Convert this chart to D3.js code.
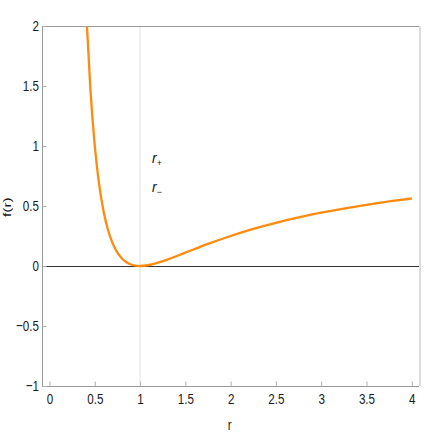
<!DOCTYPE html>
<html>
<head>
<meta charset="utf-8">
<script src="https://cdn.jsdelivr.net/npm/d3@7"></script>
<style>
  body { margin: 0; background: #fff; }
  text { font-family: "Liberation Sans", Arial, sans-serif; }
</style>
</head>
<body>
<svg id="chart"></svg>
<script>
// values
const rValues = [0.41, 0.45, 0.5, 0.55, 0.6, 0.65, 0.7, 0.75, 0.8, 0.85, 0.9, 0.95, 1.0,
                 1.1, 1.2, 1.3, 1.4, 1.5, 1.75, 2.0, 2.25, 2.5, 2.75, 3.0, 3.25, 3.5, 3.75, 4.0];
const fValues = [2.05, 1.49, 1.0, 0.669, 0.444, 0.29, 0.184, 0.111, 0.0625, 0.031, 0.0123, 0.0028, 0,
                 0.0083, 0.0278, 0.053, 0.0816, 0.111, 0.184, 0.25, 0.309, 0.36, 0.405, 0.444, 0.479, 0.51, 0.538, 0.5625];
const xTicks = [0, 0.5, 1, 1.5, 2, 2.5, 3, 3.5, 4];
const yTicks = [-1, -0.5, 0, 0.5, 1, 1.5, 2];
const horizonR = 1;
const horizonLabels = [{ name: 'r', sub: '+', f: 0.86 }, { name: 'r', sub: '\u2212', f: 0.62 }];

const width = 436, height = 436;
const margin = { top: 26, right: 17, bottom: 50, left: 42 };
const squeeze = 0.75;   // narrow look of the tick font

const svg = d3.select('#chart')
    .attr('width', width)
    .attr('height', height);

const xscale = d3.scaleLinear()
    .domain([-0.083, 4.08])
    .range([margin.left, width - margin.right]);

const yscale = d3.scaleLinear()
    .domain([-1, 2])
    .range([height - margin.bottom, margin.top]);

const data = rValues.map((r, i) => ({ r: r, f: fValues[i] }));

svg.append('clipPath')
    .attr('id', 'clip')
  .append('rect')
    .attr('x', margin.left)
    .attr('y', margin.top)
    .attr('width', width - margin.left - margin.right)
    .attr('height', height - margin.top - margin.bottom);

// vertical line at the horizon
svg.append('line')
    .attr('x1', xscale(horizonR))
    .attr('x2', xscale(horizonR))
    .attr('y1', yscale(2))
    .attr('y2', yscale(-1))
    .attr('stroke', '#e3e3e3')
    .attr('stroke-width', 1);

// zero line
svg.append('line')
    .attr('x1', margin.left)
    .attr('x2', width - margin.right)
    .attr('y1', yscale(0) + 0.5)
    .attr('y2', yscale(0) + 0.5)
    .attr('stroke', '#333')
    .attr('stroke-width', 1);

const line = d3.line()
    .x(d => xscale(d.r))
    .y(d => yscale(d.f))
    .curve(d3.curveMonotoneX);

svg.append('path')
    .attr('d', line(data))
    .attr('clip-path', 'url(#clip)')
    .attr('fill', 'none')
    .attr('stroke', '#ff8a0d')
    .attr('stroke-width', 2.3);

// frame
svg.append('line')
    .attr('x1', margin.left).attr('x2', width - margin.right)
    .attr('y1', margin.top + 0.5).attr('y2', margin.top + 0.5)
    .attr('stroke', '#9a9a9a');
svg.append('line')
    .attr('x1', width - margin.right + 1).attr('x2', width - margin.right + 1)
    .attr('y1', margin.top).attr('y2', height - margin.bottom)
    .attr('stroke', '#dcdcdc')
    .attr('stroke-width', 2);

const xaxis = d3.axisBottom(xscale)
    .tickValues(xTicks)
    .tickSizeInner(-5)
    .tickSizeOuter(0)
    .tickPadding(6.5)
    .tickFormat(d3.format('~g'));

const yaxis = d3.axisLeft(yscale)
    .tickValues(yTicks)
    .tickSizeInner(-4)
    .tickSizeOuter(0)
    .tickPadding(3)
    .tickFormat(d => d < 0 ? '\u2212' + Math.abs(d) : d);

const xg = svg.append('g')
    .attr('transform', `translate(0, ${height - margin.bottom + 0.5})`)
    .call(xaxis);
const yg = svg.append('g')
    .attr('transform', `translate(${margin.left + 0.5}, 0)`)
    .call(yaxis);

[xg, yg].forEach(g => {
    g.select('.domain').attr('stroke', '#9a9a9a');
    g.selectAll('.tick line').attr('stroke', '#b0b0b0');
    g.selectAll('.tick text')
        .style('font-size', '15.5px')
        .attr('fill', '#1a1a1a');
});
xg.select('.domain').attr('d', `M${margin.left},0H${width - margin.right}`);
yg.select('.domain').attr('d', `M0,${margin.top}V${height - margin.bottom}`);

xg.selectAll('.tick text')
    .attr('transform', `scale(${squeeze},1)`);
yg.selectAll('.tick text')
    .attr('x', 0)
    .attr('transform', `translate(-3.5,0) scale(${squeeze},1)`);

// axis labels
svg.append('text')
    .style('font-size', '15.5px')
    .attr('text-anchor', 'middle')
    .attr('transform', `translate(${xscale(2) - 1}, 430) scale(${squeeze},1)`)
    .attr('fill', '#1a1a1a')
    .text('r');

svg.append('text')
    .style('font-size', '11px')
    .attr('transform', `translate(10.5, ${yscale(0.49)}) rotate(-90) scale(1.4,1)`)
    .attr('text-anchor', 'middle')
    .attr('fill', '#1a1a1a')
    .text('f(r)');

// horizon labels
horizonLabels.forEach(h => {
    const t = svg.append('text')
        .attr('x', xscale(horizonR) + 12)
        .attr('y', yscale(h.f))
        .attr('fill', '#1a1a1a');
    t.append('tspan')
        .style('font-size', '14px')
        .style('font-style', 'italic')
        .text(h.name);
    t.append('tspan')
        .style('font-size', '9px')
        .attr('dy', 3)
        .text(h.sub);
});
</script>
</body>
</html>
